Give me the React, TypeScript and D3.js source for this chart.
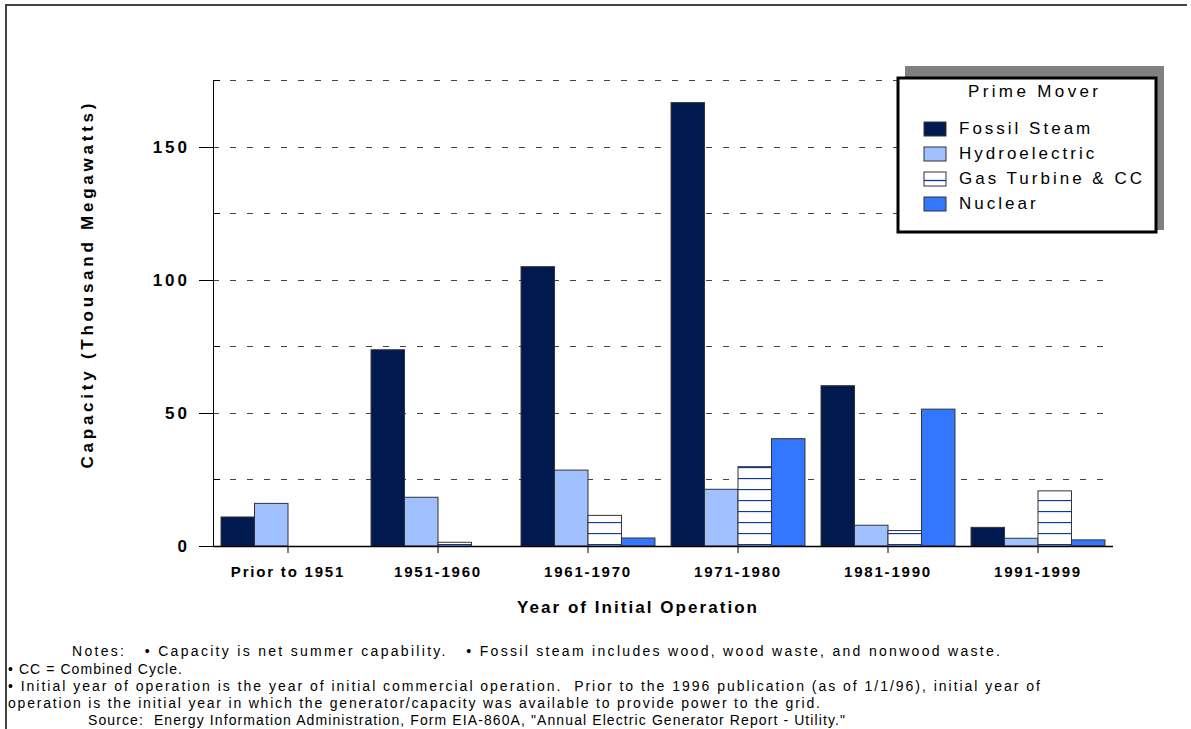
import React from 'react';
import * as d3 from 'd3';

const categories = ['Prior to 1951', '1951-1960', '1961-1970', '1971-1980', '1981-1990', '1991-1999'];
const seriesNames = ['Fossil Steam', 'Hydroelectric', 'Gas Turbine & CC', 'Nuclear'];
const fossilSteam = [10.9, 73.7, 104.9, 166.5, 60.2, 7.0];
const hydroelectric = [16.0, 18.3, 28.5, 21.3, 7.8, 2.9];
const gasTurbine = [0, 1.4, 11.5, 29.8, 5.8, 20.7];
const nuclear = [0, 0, 3.0, 40.3, 51.4, 2.3];
const yTicks = [0, 50, 100, 150];
const yMinorTicks = [25, 75, 125, 175];
const notes = [
  'Notes:   \u2022 Capacity is net summer capability.   \u2022 Fossil steam includes wood, wood waste, and nonwood waste.',
  '\u2022 CC = Combined Cycle.',
  '\u2022 Initial year of operation is the year of initial commercial operation.  Prior to the 1996 publication (as of 1/1/96), initial year of',
  'operation is the initial year in which the generator/capacity was available to provide power to the grid.',
  'Source:  Energy Information Administration, Form EIA-860A, "Annual Electric Generator Report - Utility."',
];

const W = 1191;
const H = 729;
const margin = { left: 213, right: 78, top: 80, bottom: 183 };
const colors = ['#001a50', '#a0c0ff', 'url(#gasPattern)', '#3377ff'];
const font = 'Liberation Sans, Arial, sans-serif';

// note line layout: [x, baseline, width]
const noteLayout = [
  [72, 656, 928],
  [8, 674, 174],
  [8, 691, 1032],
  [8, 708, 812],
  [88, 725, 757],
];

const App: React.FC = () => {
  const series = [fossilSteam, hydroelectric, gasTurbine, nuclear];

  const x0 = d3.scaleBand<string>()
    .domain(categories)
    .range([margin.left, W - margin.right])
    .padding(0);

  const x1 = d3.scaleBand<string>()
    .domain(seriesNames)
    .range([0, x0.bandwidth()])
    .paddingOuter(0.24)
    .paddingInner(0);

  const y = d3.scaleLinear()
    .domain([0, 175])
    .range([H - margin.bottom, margin.top]);

  const baseY = y(0);

  return (
    <svg width={W} height={H} style={{ position: 'absolute', left: 0, top: 0, background: '#fff' }} fontFamily={font}>
      <defs>
        <pattern id="gasPattern" patternUnits="userSpaceOnUse" width={8} height={11} y={baseY - 2}>
          <rect width={8} height={11} fill="#fff" />
          <line x1={0} x2={8} y1={0.5} y2={0.5} stroke="#0a3a9c" strokeWidth={1.3} />
        </pattern>
      </defs>
      <rect width={W} height={H} fill="#fff" />
      <path d={`M6,${H} V5 H1187`} fill="none" stroke="#444" strokeWidth={2} />

      {/* gridlines */}
      {[...yTicks.slice(1), ...yMinorTicks].map(t => (
        <line key={'g' + t} x1={margin.left} x2={W - margin.right} y1={Math.round(y(t)) + 0.5} y2={Math.round(y(t)) + 0.5}
          stroke="#444" strokeDasharray="6,11" />
      ))}

      {/* bars */}
      {categories.map((c, ci) => (
        <g key={c} transform={`translate(${x0(c)},0)`}>
          {series.map((s, si) => s[ci] > 0 ? (
            <rect key={si} x={x1(seriesNames[si])} y={y(s[ci])} width={x1.bandwidth()} height={baseY - y(s[ci])}
              fill={colors[si]} stroke="#333" strokeWidth={1} />
          ) : null)}
        </g>
      ))}

      {/* axes */}
      <line x1={margin.left + 0.5} x2={margin.left + 0.5} y1={margin.top} y2={baseY} stroke="#000" />
      <line x1={margin.left} x2={W - margin.right} y1={baseY + 0.5} y2={baseY + 0.5} stroke="#000" strokeWidth={1.3} />
      {yTicks.map(t => (
        <g key={'t' + t}>
          <line x1={margin.left - 14} x2={margin.left} y1={Math.round(y(t)) + 0.5} y2={Math.round(y(t)) + 0.5} stroke="#000" />
          <text x={190} y={y(t) + 6} textAnchor="end" fontSize={17} fontWeight="bold" letterSpacing={3}>{t}</text>
        </g>
      ))}
      {yMinorTicks.map(t => (
        <line key={'m' + t} x1={margin.left} x2={margin.left + 7} y1={Math.round(y(t)) + 0.5} y2={Math.round(y(t)) + 0.5} stroke="#000" />
      ))}
      {categories.map(c => {
        const cx = (x0(c) as number) + x0.bandwidth() / 2;
        return (
          <g key={'x' + c}>
            <line x1={cx} x2={cx} y1={baseY} y2={baseY + 7} stroke="#000" />
            <text x={cx} y={577} textAnchor="middle" fontSize={15} fontWeight="bold" letterSpacing={1.8}>{c}</text>
          </g>
        );
      })}

      <text x={637} y={613} textAnchor="middle" fontSize={17} fontWeight="bold" textLength={240} lengthAdjust="spacing">Year of Initial Operation</text>
      <text transform="translate(93,286) rotate(-90)" textAnchor="middle" fontSize={17} fontWeight="bold" textLength={365} lengthAdjust="spacing">Capacity  (Thousand Megawatts)</text>

      {/* legend */}
      <rect x={905} y={66} width={259} height={164} fill="#808080" />
      <rect x={898} y={78} width={258} height={154} fill="#fff" stroke="#000" strokeWidth={3} />
      <text x={1033} y={97} textAnchor="middle" fontSize={17} textLength={130} lengthAdjust="spacing">Prime Mover</text>
      {seriesNames.map((n, i) => (
        <g key={n} transform={`translate(924,${122 + i * 25})`}>
          <rect x={0} y={0} width={22} height={14} fill={i === 2 ? '#fff' : colors[i]} stroke="#333" />
          {i === 2 && <line x1={0} x2={22} y1={8.5} y2={8.5} stroke="#0a3a9c" strokeWidth={1.3} />}
          <text x={35} y={12} fontSize={17} letterSpacing={3}>{n}</text>
        </g>
      ))}

      {/* notes */}
      {notes.map((n, i) => (
        <text key={i} x={noteLayout[i][0]} y={noteLayout[i][1]} fontSize={14} textLength={noteLayout[i][2]} lengthAdjust="spacing" xmlSpace="preserve">{n}</text>
      ))}
    </svg>
  );
};

export default App;
